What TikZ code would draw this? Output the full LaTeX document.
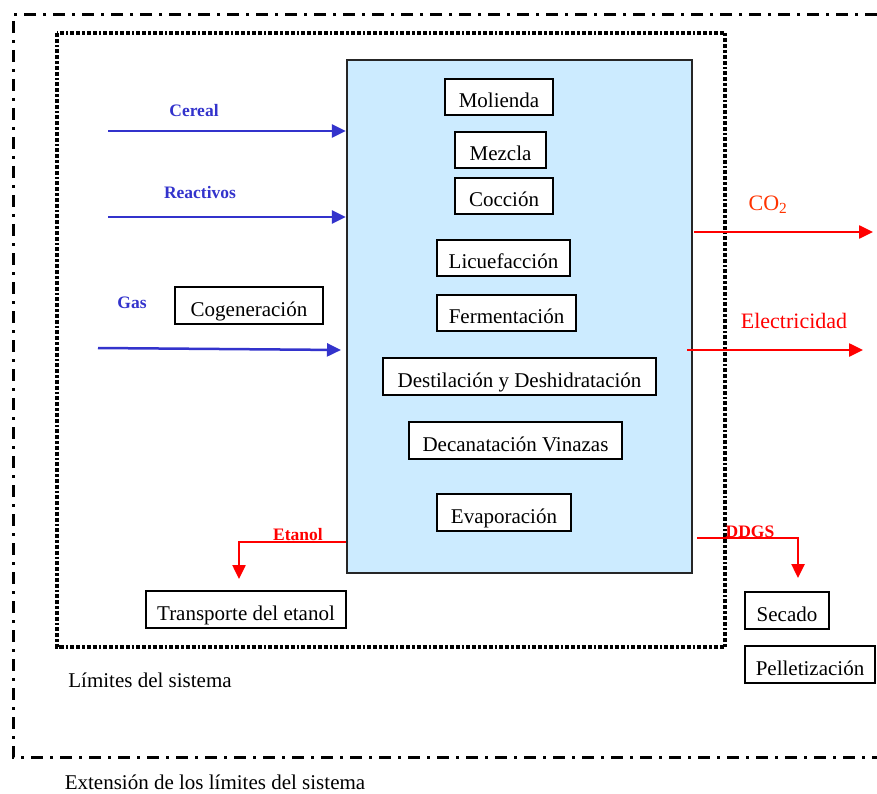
\documentclass[tikz,border=0pt]{standalone}
\usepackage{fontspec}
\setmainfont{Liberation Serif}
\usetikzlibrary{arrows.meta}
\definecolor{flowblue}{HTML}{3333CC}
\definecolor{flowred}{HTML}{FF0000}
\definecolor{co2red}{HTML}{FF3300}
\definecolor{procfill}{HTML}{CCEBFF}
\begin{document}
\begin{tikzpicture}[x=1pt,y=-1pt,
  stepbox/.style={draw=black,line width=1.8pt,fill=white,inner sep=0pt,text height=21pt,text depth=0pt,font=\fontsize{21}{24}\selectfont},
  blab/.style={text=flowblue,font=\bfseries\fontsize{17.5}{20}\selectfont},
  rlab/.style={text=flowred,font=\bfseries\fontsize{17.5}{20}\selectfont},
  olab/.style={font=\fontsize{22}{26}\selectfont},
  plain/.style={font=\fontsize{21}{24}\selectfont},
  arrb/.style={draw=flowblue,line width=2.5pt,-{Triangle[length=14pt,width=13pt]}},
  arrr/.style={draw=flowred,line width=2.5pt,-{Triangle[length=14pt,width=13pt]}}]
\useasboundingbox (0,0) rectangle (877,794);
% system limits
\draw[line width=3pt,dash pattern=on 12pt off 7pt on 3pt off 7pt] (877,15) -- (13,15) -- (13,757) -- (877,757);
\draw[line width=3.2pt,dash pattern=on 4pt off 2pt on 4pt off 2pt on 2.5pt off 2pt] (57,33) rectangle (725,647);
% main process box
\node[draw=black!85,line width=2.3pt,fill=procfill,minimum width=345pt,minimum height=513pt,inner sep=0pt] (main) at (519.5,316.5) {};
% steps
\node[stepbox,minimum width=108pt,minimum height=36pt] (mol) at (499,97) {Molienda};
\node[stepbox,minimum width=91pt,minimum height=36pt] (mez) at (500.5,150) {Mezcla};
\node[stepbox,minimum width=98pt,minimum height=36pt] (coc) at (504,196) {Cocción};
\node[stepbox,minimum width=133pt,minimum height=36pt] (lic) at (503.5,258) {Licuefacción};
\node[stepbox,minimum width=139pt,minimum height=36pt] (fer) at (506.5,313) {Fermentación};
\node[stepbox,minimum width=273pt,minimum height=37pt] (des) at (519.5,376.5) {Destilación y Deshidratación};
\node[stepbox,minimum width=213pt,minimum height=37pt] (dec) at (515.5,440.5) {Decanatación Vinazas};
\node[stepbox,minimum width=134pt,minimum height=37pt] (eva) at (504,512.5) {Evaporación};
\node[stepbox,minimum width=148pt,minimum height=37pt] (cog) at (249,305.5) {Cogeneración};
\node[stepbox,minimum width=200pt,minimum height=37pt] (tra) at (246,609.5) {Transporte del etanol};
\node[stepbox,minimum width=84pt,minimum height=37pt] (sec) at (787,610.5) {Secado};
\node[stepbox,minimum width=130pt,minimum height=37pt] (pel) at (810,664.5) {Pelletización};
% inputs
\coordinate (cerS) at (108,131);
\coordinate (reaS) at (108,217);
\coordinate (gasS) at (98,348);
\coordinate (gasE) at (341,350);
\draw[arrb] (cerS) -- (cerS -| main.west);
\draw[arrb] (reaS) -- (reaS -| main.west);
\draw[arrb] (gasS) -- (gasE);
\node[blab] (lcer) at (194,111) {Cereal};
\node[blab] (lrea) at (200,193) {Reactivos};
\node[blab] (lgas) at (132,303) {Gas};
% outputs
\coordinate (co2S) at (694,232);
\coordinate (co2E) at (873,232);
\coordinate (eleS) at (687,350);
\coordinate (eleE) at (863,350);
\draw[arrr] (co2S) -- (co2E);
\draw[arrr] (eleS) -- (eleE);
\node[olab,text=co2red] (lco2) at (768,205) {CO\textsubscript{2}};
\node[olab,text=flowred] (lele) at (794,321) {Electricidad};
\coordinate (etY) at (0,542);
\coordinate (etE) at (239,579);
\draw[arrr] (main.west |- etY) -| (etE);
\node[rlab] (leta) at (298,535) {Etanol};
\coordinate (ddS) at (697,538);
\coordinate (ddE) at (798,578);
\draw[arrr] (ddS) -| (ddE);
\node[rlab] (lddg) at (750,532) {DDGS};
% captions
\node[plain] (lim) at (150,680) {Límites del sistema};
\node[plain] (ext) at (215,782) {Extensión de los límites del sistema};
\end{tikzpicture}
\end{document}
